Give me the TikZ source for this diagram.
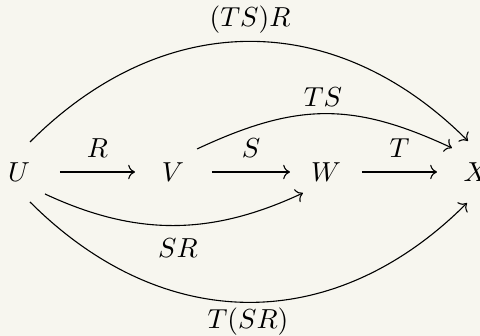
\documentclass[tikz,border=0pt]{standalone}
\usetikzlibrary{arrows.meta}
\definecolor{bgc}{RGB}{247,246,239}
\begin{document}
\begin{tikzpicture}[x=0.3636pt,y=0.3636pt,
  obj/.style={inner sep=0pt},
  lbl/.style={inner sep=0pt},
  arr/.style={-{Computer Modern Rightarrow},line width=0.4pt}]
\fill[bgc] (0,0) rectangle (480,336);
\useasboundingbox (0,0) rectangle (480,336);
\node[obj] (U) at (19,164) {$U$};
\node[obj] (V) at (173,164) {$V$};
\node[obj] (W) at (326,164) {$W$};
\node[obj] (X) at (476,164) {$X$};
% straight arrows
\draw[arr] ([shift={(41,0)}]U.center) -- ([shift={(-38,0)}]V.center)
  node[lbl,midway,above=5pt] (lR) {$R$};
\draw[arr] ([shift={(39,0)}]V.center) -- ([shift={(-36,0)}]W.center)
  node[lbl,midway,above=5pt] (lS) {$S$};
\draw[arr] ([shift={(36,0)}]W.center) -- ([shift={(-39,0)}]X.center)
  node[lbl,midway,above=5pt] (lT) {$T$};
% curved arrows
\draw[arr] ([shift={(11,30)}]U.center) to[out=45,in=135,looseness=1.1] ([shift={(-8,31)}]X.center);
\draw[arr] ([shift={(11,-30)}]U.center) to[out=-45,in=225,looseness=1.1] ([shift={(-9,-31)}]X.center);
\draw[arr] ([shift={(24,23)}]V.center) to[out=25,in=155,looseness=1.1] ([shift={(-24,24)}]X.center);
\draw[arr] ([shift={(26,-22)}]U.center) to[out=-25,in=205] ([shift={(-23,-21)}]W.center);
% labels of curved arrows
\node[lbl] (lTSR) at (250,316) {$(TS)R$};
\node[lbl] (lTSRb) at (248,14) {$T(SR)$};
\node[lbl] (lTS) at (323,239) {$TS$};
\node[lbl] (lSR) at (178,88) {$SR$};
\end{tikzpicture}
\end{document}
